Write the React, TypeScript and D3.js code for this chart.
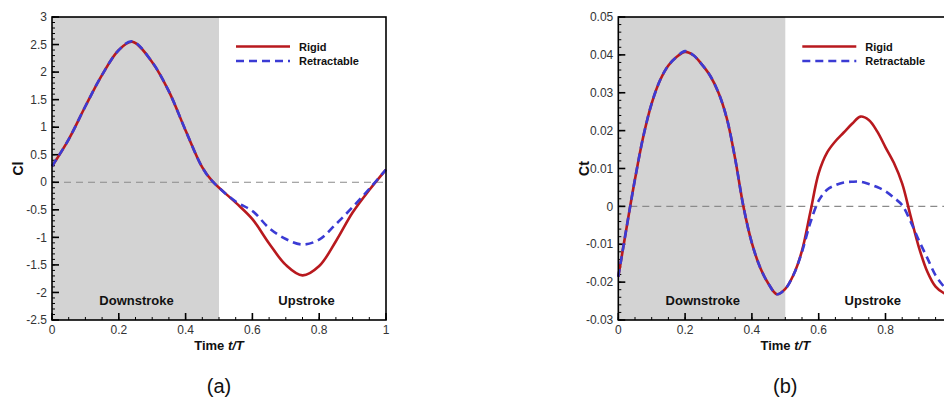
import React from 'react';
import * as d3 from 'd3';

// lift coefficient, panel (a)
const tCl = [0, 0.05, 0.1, 0.15, 0.2, 0.24, 0.3, 0.35, 0.4, 0.45, 0.48, 0.55, 0.6, 0.65, 0.7, 0.75, 0.8, 0.85, 0.9, 0.95, 1];
const clRigid = [0.29, 0.78, 1.38, 1.95, 2.4, 2.55, 2.18, 1.65, 0.94, 0.27, 0.02, -0.37, -0.67, -1.11, -1.5, -1.69, -1.52, -1.07, -0.55, -0.14, 0.23];
const clRetract = [0.29, 0.78, 1.38, 1.95, 2.4, 2.56, 2.18, 1.65, 0.94, 0.27, 0.02, -0.35, -0.52, -0.83, -1.03, -1.13, -1.04, -0.76, -0.45, -0.12, 0.23];

// thrust coefficient, panel (b)
const tCt = [0, 0.025, 0.05, 0.075, 0.1, 0.125, 0.15, 0.175, 0.2, 0.225, 0.25, 0.275, 0.3, 0.325, 0.35, 0.375, 0.4, 0.425, 0.45, 0.475, 0.5,
  0.525, 0.55, 0.575, 0.6, 0.625, 0.65, 0.675, 0.7, 0.725, 0.75, 0.775, 0.8, 0.825, 0.85, 0.875, 0.9, 0.925, 0.95, 0.975, 1];
const ctRigid = [-0.0186, -0.0055, 0.0072, 0.0185, 0.0272, 0.0333, 0.0372, 0.0395, 0.0408, 0.0399, 0.0375, 0.0345, 0.03, 0.0232, 0.0125, -0.0002, -0.0097, -0.0162, -0.0205, -0.0232, -0.0218,
  -0.018, -0.0117, -0.0015, 0.0088, 0.0142, 0.0172, 0.0195, 0.0218, 0.0237, 0.0228, 0.0198, 0.0156, 0.0115, 0.006, -0.0025, -0.0108, -0.0172, -0.0212, -0.0229, -0.0235];
const ctRetract = [-0.0186, -0.0055, 0.0072, 0.0185, 0.0272, 0.0333, 0.0372, 0.0395, 0.041, 0.0399, 0.0375, 0.0345, 0.03, 0.0232, 0.0125, -0.0002, -0.0097, -0.0162, -0.0205, -0.0232, -0.0218,
  -0.018, -0.012, -0.0043, 0.0015, 0.0044, 0.0056, 0.0063, 0.0065, 0.0065, 0.0059, 0.0051, 0.004, 0.0023, 0.0003, -0.004, -0.009, -0.0136, -0.0182, -0.0212, -0.0235];

const xTicks = [0, 0.2, 0.4, 0.6, 0.8, 1];
const xTickLabels = ['0', '0.2', '0.4', '0.6', '0.8', '1'];
const clTicks = [-2.5, -2, -1.5, -1, -0.5, 0, 0.5, 1, 1.5, 2, 2.5, 3];
const clTickLabels = ['-2.5', '-2', '-1.5', '-1', '-0.5', '0', '0.5', '1', '1.5', '2', '2.5', '3'];
const ctTicks = [-0.03, -0.02, -0.01, 0, 0.01, 0.02, 0.03, 0.04, 0.05];
const ctTickLabels = ['-0.03', '-0.02', '-0.01', '0', '0.01', '0.02', '0.03', '0.04', '0.05'];

const seriesNames = ['Rigid', 'Retractable'];

const W = 944;
const H = 401;
const RED = '#b8191e';
const BLUE = '#3b3bd4';
const FONT = 'Arial, "Liberation Sans", sans-serif';

const Panel = ({ left, label, yLabel, yDomain, yTicks, yTickLabels, yMinorStep, t, rigid, retract }) => {
  const top = 17;
  const bottom = 320;
  const width = 334;

  const x = d3.scaleLinear().domain([0, 1]).range([left, left + width]);
  const y = d3.scaleLinear().domain(yDomain).range([bottom, top]);

  const line = d3
    .line()
    .x(d => x(d[0]))
    .y(d => y(d[1]))
    .curve(d3.curveCatmullRom.alpha(0.5));

  const rigidPts = t.map((v, i) => [v, rigid[i]]);
  const retractPts = t.map((v, i) => [v, retract[i]]);

  const xMinor = x.ticks(20);
  const n = Math.round((yDomain[1] - yDomain[0]) / yMinorStep);
  const yMinor = y.ticks(n);

  const mid = x(0.5);
  const legX = left + 184;

  return (
    <g fontFamily={FONT}>
      <rect x={x(0)} y={top} width={mid - x(0)} height={bottom - top} fill="#d3d3d3" />
      <line x1={x(0)} x2={x(1)} y1={y(0)} y2={y(0)} stroke="#8a8a8a" strokeWidth={1.2} strokeDasharray="7,5" />

      {xMinor.map((v, i) => (
        <line key={'xm' + i} x1={x(v)} x2={x(v)} y1={bottom} y2={bottom - 3} stroke="#000" strokeWidth={1} />
      ))}
      {xTicks.map((v, i) => (
        <g key={'x' + i}>
          <line x1={x(v)} x2={x(v)} y1={bottom} y2={bottom - 7} stroke="#000" strokeWidth={1.6} />
          {x(v) < W - 6 && (
            <text x={x(v)} y={334} textAnchor="middle" fontSize={12} fill="#333">{xTickLabels[i]}</text>
          )}
        </g>
      ))}
      {yMinor.map((v, i) => (
        <line key={'ym' + i} x1={left} x2={left + 3} y1={y(v)} y2={y(v)} stroke="#000" strokeWidth={1} />
      ))}
      {yTicks.map((v, i) => (
        <g key={'y' + i}>
          <line x1={left} x2={left + 7} y1={y(v)} y2={y(v)} stroke="#000" strokeWidth={1.6} />
          <text x={left - 5} y={y(v)} dy="0.35em" textAnchor="end" fontSize={12} fill="#333">{yTickLabels[i]}</text>
        </g>
      ))}

      <path d={line(rigidPts)} fill="none" stroke={RED} strokeWidth={2.6} />
      <path d={line(retractPts)} fill="none" stroke={BLUE} strokeWidth={2.6} strokeDasharray="8,5" />

      <rect x={left} y={top} width={width} height={bottom - top} fill="none" stroke="#000" strokeWidth={1.6} />

      <line x1={legX} x2={legX + 54} y1={46.5} y2={46.5} stroke={RED} strokeWidth={2.6} />
      <line x1={legX} x2={legX + 54} y1={61} y2={61} stroke={BLUE} strokeWidth={2.6} strokeDasharray="8,5" />
      <text x={legX + 63} y={50.5} fontSize={11} fontWeight="bold" fill="#111">{seriesNames[0]}</text>
      <text x={legX + 63} y={65} fontSize={11} fontWeight="bold" fill="#111">{seriesNames[1]}</text>

      <text x={(x(0) + mid) / 2 + 1} y={305} textAnchor="middle" fontSize={13} fontWeight="bold" fill="#111">Downstroke</text>
      <text x={(mid + x(1)) / 2 + 4} y={305} textAnchor="middle" fontSize={13} fontWeight="bold" fill="#111">Upstroke</text>

      <text x={mid} y={350} textAnchor="middle" fontSize={13} fontWeight="bold" fill="#111">
        Time <tspan fontStyle="italic">t/T</tspan>
      </text>
      <text transform={`translate(${left - 29},${(top + bottom) / 2}) rotate(-90)`} textAnchor="middle" fontSize={14} fontWeight="bold" fill="#111">{yLabel}</text>

      <text x={mid} y={393} textAnchor="middle" fontSize={20} fill="#111">{label}</text>
    </g>
  );
};

export default function App() {
  return (
    <svg width={W} height={H} style={{ position: 'absolute', left: 0, top: 0, background: '#fff' }}>
      <rect width={W} height={H} fill="#fff" />
      <Panel left={52} label="(a)" yLabel="Cl" yDomain={[-2.5, 3]} yTicks={clTicks} yTickLabels={clTickLabels} yMinorStep={0.1} t={tCl} rigid={clRigid} retract={clRetract} />
      <Panel left={618.3} label="(b)" yLabel="Ct" yDomain={[-0.03, 0.05]} yTicks={ctTicks} yTickLabels={ctTickLabels} yMinorStep={0.002} t={tCt} rigid={ctRigid} retract={ctRetract} />
    </svg>
  );
}
